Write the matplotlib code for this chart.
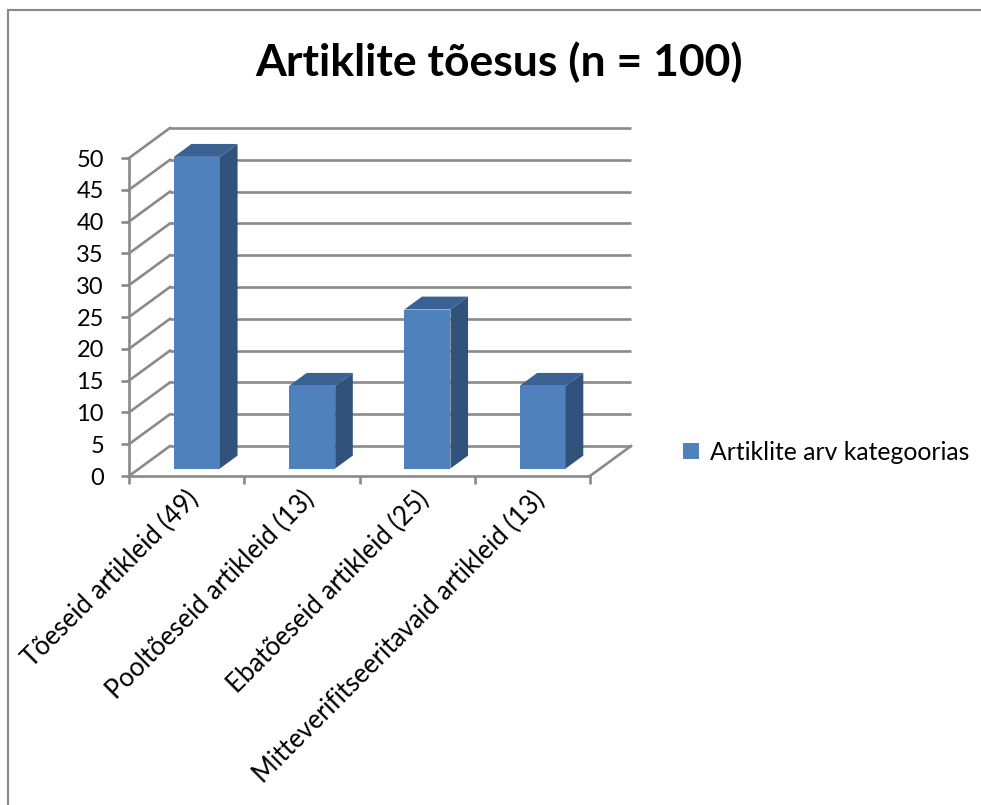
import matplotlib
matplotlib.use("Agg")
import matplotlib.pyplot as plt
from matplotlib.patches import Polygon, Patch
from matplotlib.lines import Line2D

plt.rcParams['font.family'] = ['Lato', 'DejaVu Sans']

title = "Artiklite tõesus (n = 100)"
categories = ["Tõeseid artikleid (49)", "Pooltõeseid artikleid (13)",
              "Ebatõeseid artikleid (25)", "Mitteverifitseeritavaid artikleid (13)"]
values = [49, 13, 25, 13]
series_name = "Artiklite arv kategoorias"
y_ticks = list(range(0, 55, 5))

W, H = 981, 805
fig = plt.figure(figsize=(W / 100, H / 100), dpi=100)
fig.patch.set_facecolor('white')

# plot area (front plane) in pixels
x0p, x1p, y0p, y1p = 129, 590, 476, 158
ax = fig.add_axes([x0p / W, 1 - y0p / H, (x1p - x0p) / W, (y0p - y1p) / H])
n = len(categories)
ax.set_xlim(0, n)
ax.set_ylim(0, 50)
ax.patch.set_alpha(0)

grid_c = '#8a8a8a'
lw = 1.9
# depth offsets (data units) for full depth
ox = 41 / ((x1p - x0p) / n)
oy = 30 / ((y0p - y1p) / 50)

# back wall gridlines + left side wall lines
for v in y_ticks:
    ax.plot([ox, n + ox], [v + oy, v + oy], color=grid_c, lw=lw, clip_on=False, zorder=1,
            solid_capstyle='butt')
    ax.plot([0, ox], [v, v + oy], color=grid_c, lw=lw, clip_on=False, zorder=1)
# floor right edge
ax.plot([n, n + ox], [0, oy], color=grid_c, lw=lw, clip_on=False, zorder=1)

# bars
front_c = '#4f81bd'
side_c = '#31527a'
top_c = '#3b6294'
bw = 0.4
d0, d1 = 0.25, 0.68
for i, v in enumerate(values):
    c = i + 0.5
    xl = c - bw / 2 + d0 * ox
    xr = c + bw / 2 + d0 * ox
    yb = d0 * oy
    dx = (d1 - d0) * ox
    dy = (d1 - d0) * oy
    front = Polygon([(xl, yb), (xr, yb), (xr, yb + v), (xl, yb + v)], closed=True,
                    facecolor=front_c, edgecolor='none', clip_on=False, zorder=3)
    side = Polygon([(xr, yb), (xr + dx, yb + dy), (xr + dx, yb + dy + v), (xr, yb + v)],
                   closed=True, facecolor=side_c, edgecolor='none', clip_on=False, zorder=3)
    top = Polygon([(xl, yb + v), (xr, yb + v), (xr + dx, yb + dy + v), (xl + dx, yb + dy + v)],
                  closed=True, facecolor=top_c, edgecolor='none', clip_on=False, zorder=3)
    for p in (front, side, top):
        ax.add_patch(p)

# axes
for s in ('top', 'right'):
    ax.spines[s].set_visible(False)
for s in ('left', 'bottom'):
    ax.spines[s].set_color(grid_c)
    ax.spines[s].set_linewidth(lw)
    ax.spines[s].set_zorder(2)
ax.set_yticks(y_ticks)
ax.set_yticklabels([str(t) for t in y_ticks], fontsize=17)
ax.tick_params(axis='y', direction='out', length=6, width=lw, color=grid_c, pad=12)
ax.set_xticks(range(n + 1))
ax.set_xticklabels([])
ax.tick_params(axis='x', which='major', direction='out', length=6, width=lw, color=grid_c)
ax.set_xticks([i + 0.57 for i in range(n)], minor=True)
ax.set_xticklabels(categories, minor=True, rotation=45, ha='right', va='center',
                   rotation_mode='anchor', fontsize=18.5)
ax.tick_params(axis='x', which='minor', length=0, pad=14)

# title
fig.text(499.5 / W, 1 - 62 / H, title, ha='center', va='center', fontsize=32,
         fontweight='bold')

# legend
handle = Patch(facecolor=front_c, edgecolor='none')
fig.legend([handle], [series_name], loc='center left',
           bbox_to_anchor=(683 / W, 1 - 452 / H), frameon=False, fontsize=17.8,
           handlelength=0.65, handleheight=0.65, handletextpad=0.45, borderpad=0,
           borderaxespad=0)

# chart border (top and left visible)
fig.add_artist(Line2D([8 / W, 1], [1 - 10 / H, 1 - 10 / H], color='#888888', lw=1.5,
                      transform=fig.transFigure))
fig.add_artist(Line2D([8 / W, 8 / W], [1 - 10 / H, 0], color='#888888', lw=1.5,
                      transform=fig.transFigure))

fig.savefig('out.png', dpi=100)
